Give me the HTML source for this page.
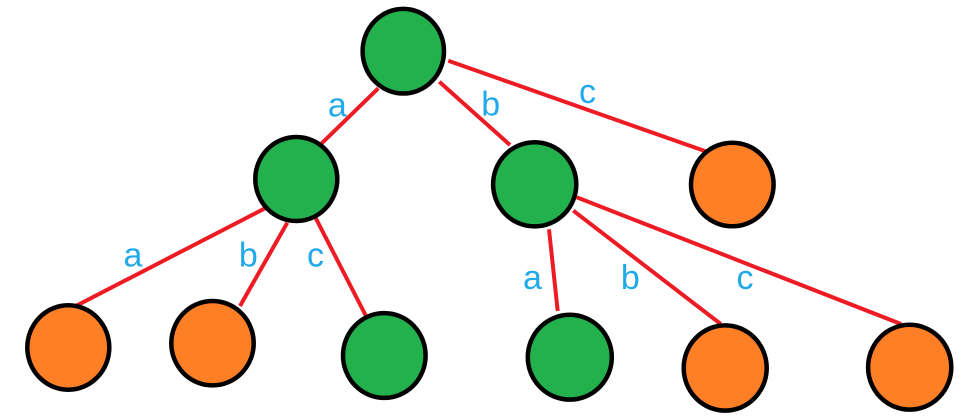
<!DOCTYPE html>
<html>
<head>
<meta charset="utf-8">
<style>
html,body{margin:0;padding:0;background:#fff;}
svg{display:block;}
text{font-family:"Liberation Sans",Arial,sans-serif;font-size:34px;fill:#22a9e9;}
</style>
</head>
<body>
<svg width="962" height="420" viewBox="0 0 962 420" xmlns="http://www.w3.org/2000/svg">
<g stroke="#ed1c24" stroke-width="4" fill="none">
  <line x1="378.3" y1="88.3" x2="320" y2="145"/>
  <line x1="439.3" y1="81.7" x2="510" y2="145"/>
  <line x1="448.3" y1="60.7" x2="708.3" y2="152.3"/>
  <line x1="265" y1="208.3" x2="73.3" y2="307.3"/>
  <line x1="287.3" y1="222.7" x2="240" y2="306"/>
  <line x1="315" y1="216.7" x2="366" y2="316"/>
  <line x1="549" y1="229.3" x2="557.7" y2="311"/>
  <line x1="573.3" y1="210.7" x2="720.7" y2="324"/>
  <line x1="576.7" y1="197.3" x2="901" y2="324"/>
</g>
<g stroke="#000" stroke-width="4.5">
  <ellipse cx="403.3" cy="51.2" rx="40.7" ry="42.3" fill="#22b14c"/>
  <ellipse cx="296.3" cy="179" rx="41" ry="42" fill="#22b14c"/>
  <ellipse cx="534.7" cy="184.3" rx="41.6" ry="42.1" fill="#22b14c"/>
  <ellipse cx="732.3" cy="184.5" rx="41.3" ry="41.8" fill="#ff7f27"/>
  <ellipse cx="68.3" cy="347.5" rx="41" ry="42.2" fill="#ff7f27"/>
  <ellipse cx="212.5" cy="343.2" rx="41.2" ry="42.2" fill="#ff7f27"/>
  <ellipse cx="384.3" cy="355.5" rx="41.3" ry="42.4" fill="#22b14c"/>
  <ellipse cx="569.8" cy="357.2" rx="42" ry="42.4" fill="#22b14c"/>
  <ellipse cx="725.2" cy="368" rx="41.5" ry="42.6" fill="#ff7f27"/>
  <ellipse cx="909.7" cy="367.2" rx="41.6" ry="42.4" fill="#ff7f27"/>
</g>
<g text-anchor="middle">
  <text x="337.3" y="116.5">a</text>
  <text x="490.7" y="115.5">b</text>
  <text x="587.5" y="103">c</text>
  <text x="133" y="266.5">a</text>
  <text x="248.3" y="266.5">b</text>
  <text x="315.5" y="266.5">c</text>
  <text x="532.5" y="289">a</text>
  <text x="630.3" y="289">b</text>
  <text x="745" y="289">c</text>
</g>
</svg>
</body>
</html>
